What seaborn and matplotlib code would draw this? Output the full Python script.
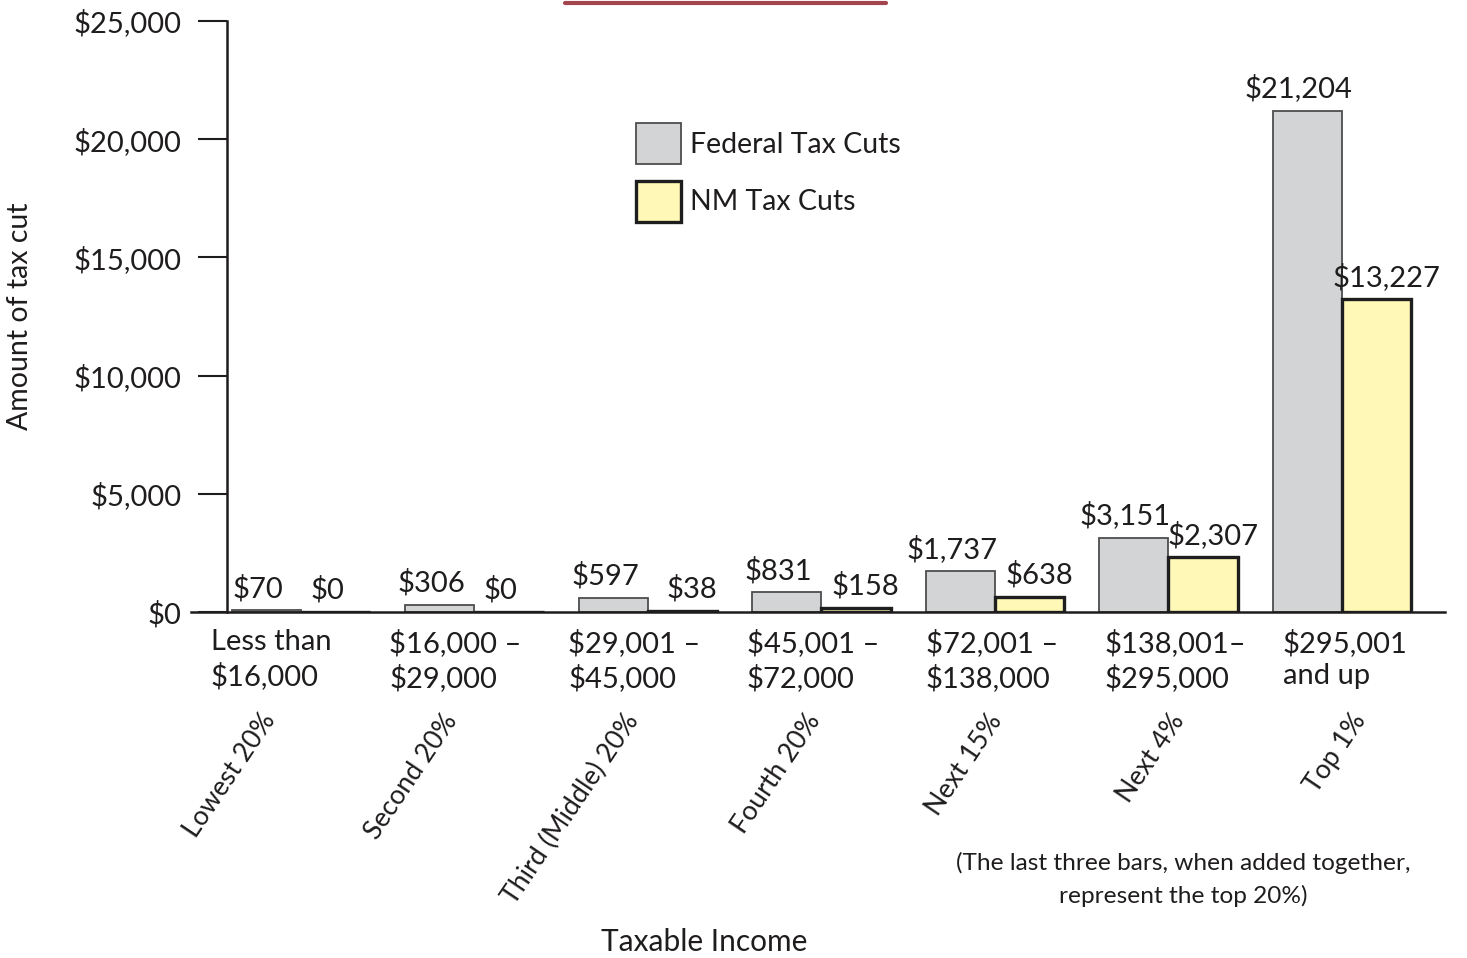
import matplotlib
matplotlib.use("Agg")
import matplotlib.pyplot as plt
import matplotlib.transforms as mtransforms
from matplotlib.patches import Patch
from matplotlib.lines import Line2D
import seaborn as sns
import pandas as pd

# ---------------- data ----------------
income_ranges = ["Less than\n$16,000", "$16,000 –\n$29,000", "$29,001 –\n$45,000",
                 "$45,001 –\n$72,000", "$72,001 –\n$138,000", "$138,001–\n$295,000",
                 "$295,001\nand up"]
groups = ["Lowest 20%", "Second 20%", "Third (Middle) 20%", "Fourth 20%",
          "Next 15%", "Next 4%", "Top 1%"]
federal_cuts = [70, 306, 597, 831, 1737, 3151, 21204]
nm_cuts = [0, 0, 38, 158, 638, 2307, 13227]
series_names = ["Federal Tax Cuts", "NM Tax Cuts"]
y_ticks = [0, 5000, 10000, 15000, 20000, 25000]
y_tick_labels = ["$0", "$5,000", "$10,000", "$15,000", "$20,000", "$25,000"]

df = pd.DataFrame({
    "group": groups * 2,
    "series": [series_names[0]] * len(groups) + [series_names[1]] * len(groups),
    "value": federal_cuts + nm_cuts,
})

# ---------------- style ----------------
sns.set_style("white")
FONT = ["Lato", "DejaVu Sans"]
plt.rcParams["font.family"] = FONT
TEXT = "#1f1c1d"
FED_FILL, FED_EDGE = "#d3d4d6", "#4d4d4d"
NM_FILL, NM_EDGE = "#fff8b6", "#1e1e1e"
FS = 21

W, H = 1467, 958
fig = plt.figure(figsize=(W / 100, H / 100), dpi=100)
ax_left, ax_right, ax_top, ax_bottom = 191, 1445, 21, 612
ax = fig.add_axes([ax_left / W, 1 - ax_bottom / H, (ax_right - ax_left) / W, (ax_bottom - ax_top) / H])

sns.barplot(data=df, x="group", y="value", hue="series", order=groups,
            hue_order=series_names, palette=[FED_FILL, NM_FILL],
            width=0.8, dodge=True, legend=False, ax=ax, saturation=1)

styles = [(FED_EDGE, 1.3), (NM_EDGE, 2.4)]
for cont, (ec, lw) in zip(ax.containers, styles):
    for bar in cont:
        bar.set_edgecolor(ec)
        bar.set_linewidth(lw)

# axis ranges
ax.set_ylim(0, 25000)
ax.set_xlim(-0.634, 6.594)

# spines
for s in ["top", "right"]:
    ax.spines[s].set_visible(False)
ax.spines["left"].set_position(("axes", (227 - ax_left) / (ax_right - ax_left)))
ax.spines["left"].set_linewidth(1.8)
ax.spines["left"].set_color(TEXT)
ax.spines["bottom"].set_linewidth(1.8)
ax.spines["bottom"].set_color(TEXT)

ax.set_yticks(y_ticks)
ax.set_yticklabels(y_tick_labels)
ax.tick_params(axis="y", direction="out", length=21, width=1.5, pad=12,
               labelsize=FS, colors=TEXT, left=True)
ax.set_xticks([])
ax.set_xlabel("")
ax.set_ylabel("")

# value labels
for k, (cont, vals) in enumerate(zip(ax.containers, [federal_cuts, nm_cuts])):
    for bar, v in zip(cont, vals):
        if k == 0:
            dx = -6
        else:
            dx = 7 if v > 0 else -6
        ax.annotate(f"${v:,}", (bar.get_x() + bar.get_width() / 2, bar.get_height()),
                    xytext=(dx, 6), textcoords="offset points", ha="center", va="bottom",
                    fontsize=FS, color=TEXT)

# category labels (spread slightly wider than the bar groups, as in the original)
trans = mtransforms.blended_transform_factory(ax.transData, ax.transAxes)
ax_h = ax_bottom - ax_top
for i, (rng, grp) in enumerate(zip(income_ranges, groups)):
    ax.text(1.03 * i - 0.52, -(17 / ax_h), rng, transform=trans, ha="left", va="top",
            fontsize=FS, color=TEXT, linespacing=1.3)
    ax.text(1.047 * i - 0.235, -(97 / ax_h), grp, transform=trans, ha="right", va="top",
            rotation=56, rotation_mode="anchor", fontsize=19.2, color=TEXT)

# legend
handles = [Patch(facecolor=FED_FILL, edgecolor=FED_EDGE, linewidth=1.3),
           Patch(facecolor=NM_FILL, edgecolor=NM_EDGE, linewidth=2.4)]
fig.legend(handles, series_names, loc="upper left",
           bbox_to_anchor=(636 / W, 1 - 123 / H), frameon=False, fontsize=20.5,
           handlelength=1.58, handleheight=1.85, labelspacing=0.58,
           handletextpad=0.3, borderpad=0, borderaxespad=0, labelcolor=TEXT)

# other texts
fig.text(20 / W, 1 - 316 / H, "Amount of tax cut", rotation=90, ha="center",
         va="center", fontsize=20.5, color=TEXT)
fig.text(704 / W, 1 - 942 / H, "Taxable Income", ha="center", va="center",
         fontsize=21.5, color=TEXT)
fig.text(1183 / W, 1 - 852 / H,
         "(The last three bars, when added together,\nrepresent the top 20%)",
         ha="center", va="top", fontsize=17.6, color=TEXT, linespacing=1.6)

# decorative red rule at top
fig.add_artist(Line2D([565 / W, 886 / W], [1 - 2.5 / H, 1 - 2.5 / H],
                      color="#a3454f", lw=3, transform=fig.transFigure))

fig.savefig("out.png", dpi=100)
